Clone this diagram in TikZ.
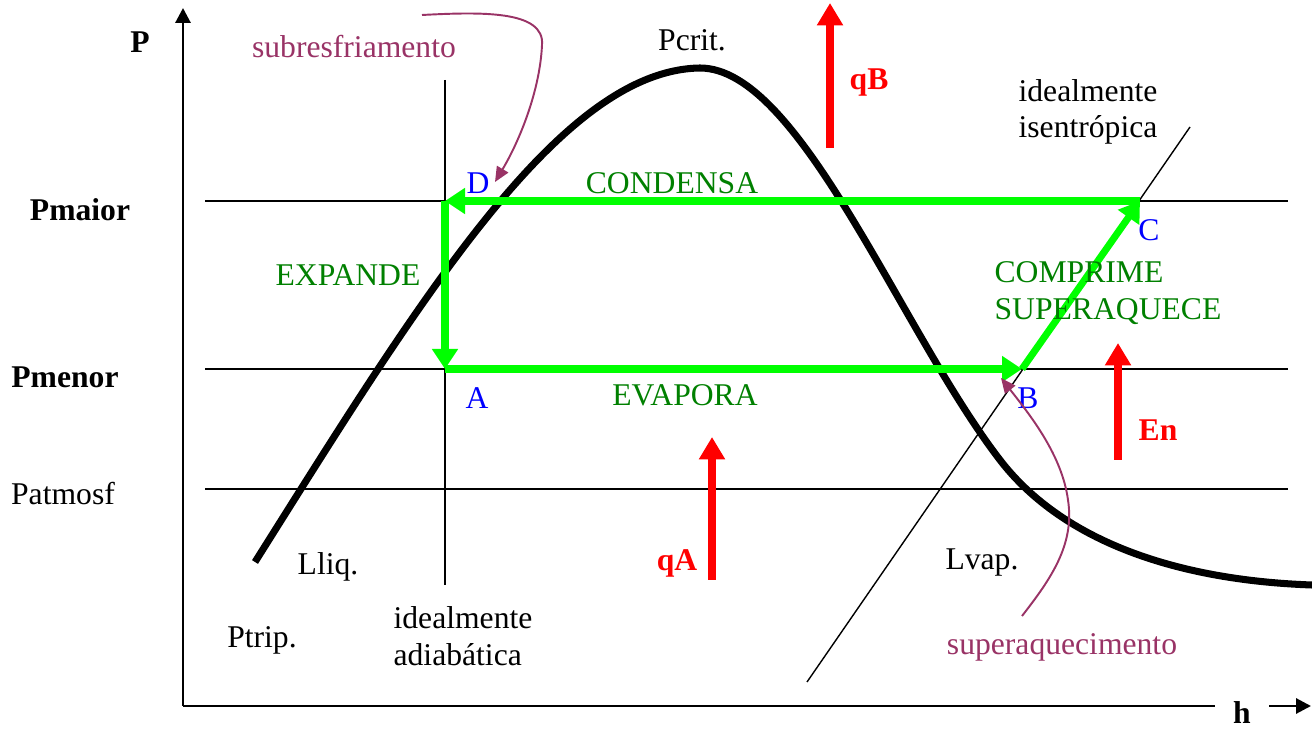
\documentclass[tikz,border=0pt]{standalone}
\usepackage{fontspec}
\setmainfont{Liberation Serif}
\usetikzlibrary{arrows.meta}

\definecolor{cyclegreen}{RGB}{0,255,0}
\definecolor{textgreen}{RGB}{0,128,0}
\definecolor{notepurple}{RGB}{153,51,102}

\begin{document}
\begin{tikzpicture}[
    x=0.2mm, y=-0.2mm,
    txt/.style={font=\fontsize{18}{20.7}\selectfont, inner sep=0pt},
    bold/.style={txt, font=\fontsize{18}{20.7}\selectfont\bfseries},
    axis/.style={line width=1.7pt},
    guide/.style={line width=0.8pt},
    sat/.style={line width=4pt, line join=round},
    flow/.style={cyclegreen, line width=4pt, -{Triangle[length=4mm,width=5mm]}},
    heat/.style={red, line width=4.5pt, -{Triangle[length=4.5mm,width=5mm]}},
    note/.style={notepurple, line width=1.1pt, -{Triangle[length=3mm,width=2.6mm]}}
]
\useasboundingbox (0,0) rectangle (1312,729);

% Axes
\coordinate (origin) at (183,706);
\coordinate (ptop) at (183,8);
\coordinate (hend) at (1311,706);
\node[bold] (plbl) at (140,42) {P};
\node[bold, inner xsep=3.6mm] (hlbl) at (1242,713) {h};
\draw[axis, -{Triangle[length=3mm,width=3mm]}] (origin) -- (ptop);
\draw[axis] (origin) -- (origin -| hlbl.west);
\draw[axis, -{Triangle[length=3mm,width=3mm]}] (origin -| hlbl.east) -- (hend);

% Pressure levels
\node[bold] (pmaior) at (80,210) {Pmaior};
\node[bold] (pmenor) at (65,377) {Pmenor};
\node[txt] (patm) at (63,494) {Patmosf};
\draw[guide] (205,201) -- (1288,201);
\draw[guide] (205,369) -- (1288,369);
\draw[guide] (205,489) -- (1288,489);

% Isenthalp and isentrope
\draw[guide] (445,80) -- (445,585);
\draw[guide] (807,682) -- (1190,127);

% Saturation dome
\draw[sat] (255,562) .. controls (420,300) and (560,70) .. (700,68)
    .. controls (800,68) and (900,330) .. (1000,460)
    .. controls (1060,538) and (1170,580) .. (1312,585);

% Cycle points
\coordinate (D) at (445,201);
\coordinate (A) at (445,369);
\coordinate (B) at (1022,369);
\coordinate (C) at (1140,201);
\draw[flow] (C) -- (D);
\draw[flow] (D) -- (A);
\draw[flow] (A) -- (B);
\draw[flow] (B) -- (C);

\node[txt, blue] (dlbl) at (478,183) {D};
\node[txt, blue] (albl) at (477,398) {A};
\node[txt, blue] (blbl) at (1028,398) {B};
\node[txt, blue] (clbl) at (1149,230) {C};

% Process labels
\node[txt, textgreen] (condensa) at (672,183) {CONDENSA};
\node[txt, textgreen] (expande) at (348,275) {EXPANDE};
\node[txt, textgreen] (evapora) at (685,395) {EVAPORA};
\node[txt, textgreen, align=left] (comprime) at (1108,293) {COMPRIME\\SUPERAQUECE};

% Heat and work
\coordinate (qbfoot) at (830,148);
\coordinate (qbtip) at (830,3);
\coordinate (qafoot) at (712,580);
\coordinate (qatip) at (712,437);
\coordinate (enfoot) at (1118,460);
\coordinate (entip) at (1118,343);
\draw[heat] (qbfoot) -- (qbtip);
\draw[heat] (qafoot) -- (qatip);
\draw[heat] (enfoot) -- (entip);
\node[bold, red] (qb) at (869,83) {qB};
\node[bold, red] (qa) at (677,563) {qA};
\node[bold, red] (en) at (1158,430) {En};

% Other labels
\node[txt] (pcrit) at (692,40) {Pcrit.};
\node[txt, align=left] (isent) at (1088,112) {idealmente\\isentrópica};
\node[txt, align=left] (adiab) at (463,636) {idealmente\\adiabática};
\node[txt] (lliq) at (328,567) {Lliq.};
\node[txt] (lvap) at (982,563) {Lvap.};
\node[txt] (ptrip) at (262,640) {Ptrip.};

% Notes
\node[txt, notepurple] (subres) at (354,47) {subresfriamento};
\node[txt, notepurple] (superaq) at (1062,647) {superaquecimento};
\coordinate (subfrom) at (422,15);
\coordinate (subto) at (495,182);
\coordinate (supfrom) at (1022,616);
\coordinate (supto) at (1001,378);
\draw[note] (subfrom) .. controls (480,12) and (545,10) .. (542,45)
    .. controls (540,90) and (520,140) .. (subto);
\draw[note] (supfrom) .. controls (1050,580) and (1075,545) .. (1068,500)
    .. controls (1062,455) and (1030,415) .. (supto);

\end{tikzpicture}
\end{document}
